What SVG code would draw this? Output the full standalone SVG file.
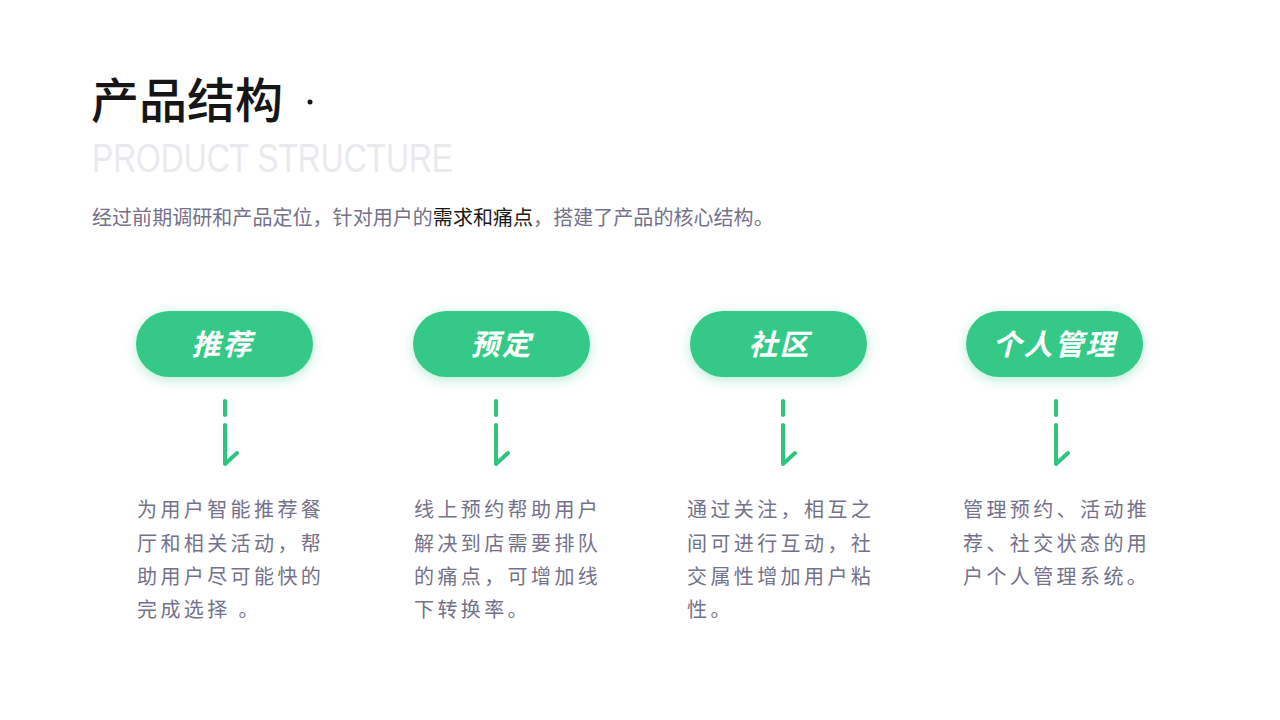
<svg xmlns="http://www.w3.org/2000/svg" width="1280" height="720" viewBox="0 0 1280 720">
<defs>
<filter id="glow" x="-30%" y="-50%" width="160%" height="200%">
<feDropShadow dx="0" dy="3" stdDeviation="6" flood-color="#34c987" flood-opacity="0.35"/>
</filter>
<style>
.cjk{font-family:"Noto Sans CJK SC","Noto Sans",sans-serif;}
.title{font-size:48px;font-weight:500;fill:#161616;}
.en{font-family:"Liberation Sans","DejaVu Sans",sans-serif;font-size:40px;fill:#e9e9ee;}
.sub{font-size:20px;letter-spacing:0.05px;fill:#74718b;}
.hl{fill:#1a1a1a;}
.pill{fill:#34c987;}
.ptxt{font-size:29px;font-weight:700;font-style:italic;fill:#ffffff;letter-spacing:2px;}
.desc{font-size:20px;fill:#74718b;letter-spacing:3.4px;}
.arr{fill:none;stroke:#2ec480;stroke-width:4;stroke-linecap:round;stroke-linejoin:round;}
</style>
</defs>
<rect width="1280" height="720" fill="#ffffff"/>
<g id="header">
<text class="cjk title" x="91" y="118">产品结构</text>
<circle cx="310" cy="102" r="2.5" fill="#161616"/>
<text class="en" x="92" y="172" textLength="361" lengthAdjust="spacingAndGlyphs">PRODUCT STRUCTURE</text>
<text class="cjk sub" x="92" y="225">经过前期调研和产品定位，针对用户的<tspan class="hl">需求和痛点</tspan>，搭建了产品的核心结构。</text>
</g>
<g id="node-recommend">
<rect class="pill" x="136" y="311" width="177" height="66" rx="33" filter="url(#glow)"/>
<text class="cjk ptxt" x="222.5" y="355" text-anchor="middle">推荐</text>
<text class="cjk desc" x="137" y="517">为用户智能推荐餐</text>
<text class="cjk desc" x="137" y="551">厅和相关活动，帮</text>
<text class="cjk desc" x="137" y="584">助用户尽可能快的</text>
<text class="cjk desc" x="137" y="617">完成选择 。</text>
</g>
<g id="node-booking">
<rect class="pill" x="413" y="311" width="177" height="66" rx="33" filter="url(#glow)"/>
<text class="cjk ptxt" x="501.5" y="355" text-anchor="middle">预定</text>
<text class="cjk desc" x="414" y="517">线上预约帮助用户</text>
<text class="cjk desc" x="414" y="551">解决到店需要排队</text>
<text class="cjk desc" x="414" y="584">的痛点，可增加线</text>
<text class="cjk desc" x="414" y="617">下转换率。</text>
</g>
<g id="node-community">
<rect class="pill" x="690" y="311" width="177" height="66" rx="33" filter="url(#glow)"/>
<text class="cjk ptxt" x="779.5" y="355" text-anchor="middle">社区</text>
<text class="cjk desc" x="687" y="517">通过关注，相互之</text>
<text class="cjk desc" x="687" y="551">间可进行互动，社</text>
<text class="cjk desc" x="687" y="584">交属性增加用户粘</text>
<text class="cjk desc" x="687" y="617">性。</text>
</g>
<g id="node-personal">
<rect class="pill" x="966" y="311" width="177" height="66" rx="33" filter="url(#glow)"/>
<text class="cjk ptxt" x="1054.5" y="355" text-anchor="middle">个人管理</text>
<text class="cjk desc" x="963" y="517">管理预约、活动推</text>
<text class="cjk desc" x="963" y="551">荐、社交状态的用</text>
<text class="cjk desc" x="963" y="584">户个人管理系统。</text>
</g>
<g id="connectors">
<path class="arr" d="M225 401 V415 M225 425 V464 L237 453"/>
<path class="arr" d="M496 401 V415 M496 425 V464 L508 453"/>
<path class="arr" d="M783 401 V415 M783 425 V464 L795 453"/>
<path class="arr" d="M1056 401 V415 M1056 425 V464 L1068 453"/>
</g>
</svg>
